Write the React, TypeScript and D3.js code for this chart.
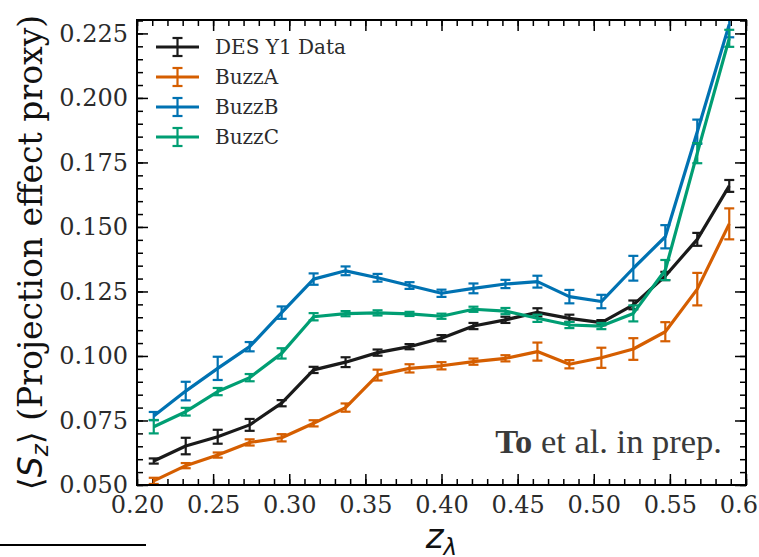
import React, { useEffect, useRef } from 'react';
import * as d3 from 'd3';

// redshift bins
const zLambda = [0.211, 0.232, 0.253, 0.274, 0.295, 0.316, 0.337, 0.358, 0.379, 0.400, 0.421, 0.442, 0.463, 0.484, 0.505, 0.526, 0.547, 0.568, 0.589];

const desY = [0.0593, 0.0651, 0.0687, 0.0733, 0.0817, 0.0946, 0.0976, 0.1013, 0.1036, 0.1069, 0.1116, 0.1140, 0.1169, 0.1146, 0.1129, 0.1198, 0.1310, 0.1452, 0.1659];
const desErr = [0.0010, 0.0032, 0.0027, 0.0023, 0.0012, 0.0012, 0.0019, 0.0012, 0.0010, 0.0012, 0.0012, 0.0012, 0.0016, 0.0014, 0.0010, 0.0017, 0.0016, 0.0025, 0.0023];

const buzzAY = [0.0516, 0.0575, 0.0616, 0.0665, 0.0683, 0.0739, 0.0800, 0.0926, 0.0952, 0.0962, 0.0978, 0.0991, 0.1017, 0.0968, 0.0993, 0.1027, 0.1094, 0.1259, 0.1512];
const buzzAErr = [0.0012, 0.0010, 0.0010, 0.0012, 0.0014, 0.0012, 0.0016, 0.0021, 0.0016, 0.0014, 0.0012, 0.0012, 0.0035, 0.0016, 0.0039, 0.0042, 0.0037, 0.0063, 0.0060];

const buzzBY = [0.0767, 0.0864, 0.0952, 0.1036, 0.1168, 0.1298, 0.1330, 0.1303, 0.1273, 0.1243, 0.1262, 0.1279, 0.1288, 0.1230, 0.1211, 0.1340, 0.1462, 0.1869, 0.2285];
const buzzBErr = [0.0016, 0.0036, 0.0045, 0.0018, 0.0024, 0.0022, 0.0017, 0.0015, 0.0013, 0.0014, 0.0019, 0.0016, 0.0023, 0.0026, 0.0026, 0.0048, 0.0045, 0.0047, 0.0050];

const buzzCY = [0.0726, 0.0784, 0.0862, 0.0916, 0.1010, 0.1152, 0.1164, 0.1167, 0.1163, 0.1154, 0.1181, 0.1174, 0.1146, 0.1120, 0.1116, 0.1165, 0.1333, 0.1786, 0.2231];
const buzzCErr = [0.0026, 0.0015, 0.0014, 0.0014, 0.0020, 0.0014, 0.0010, 0.0010, 0.0008, 0.0010, 0.0010, 0.0012, 0.0014, 0.0012, 0.0012, 0.0031, 0.0039, 0.0039, 0.0033];

const seriesNames = ['DES Y1 Data', 'BuzzA', 'BuzzB', 'BuzzC'];
const seriesColors = ['#1a1a1a', '#d55e00', '#0072b2', '#009e73'];

const xTicks = [0.20, 0.25, 0.30, 0.35, 0.40, 0.45, 0.50, 0.55, 0.60];
const yTicks = [0.050, 0.075, 0.100, 0.125, 0.150, 0.175, 0.200, 0.225];

const W = 759, H = 557;
const margin = { top: 20, right: 13, bottom: 72, left: 137 };

const App = () => {
    const ref = useRef(null);

    useEffect(() => {
        if (!ref.current) return;
        const svg = d3.select(ref.current);
        svg.selectAll('*').remove();

        const iw = W - margin.left - margin.right;
        const ih = H - margin.top - margin.bottom;

        const x = d3.scaleLinear().domain([0.2, 0.6]).range([0, iw]);
        const y = d3.scaleLinear().domain([0.05, 0.2302]).range([ih, 0]);

        const g = svg.append('g').attr('transform', `translate(${margin.left},${margin.top})`);

        svg.append('defs').append('clipPath').attr('id', 'plotclip')
            .append('rect').attr('width', iw).attr('height', ih);

        const minorX = d3.range(0.2, 0.6001, 0.01);
        const minorY = d3.range(0.05, 0.2301, 0.005);

        // ticks pointing inwards on every side
        const addAxis = (axis, transform, labels) => {
            const a = g.append('g').attr('transform', transform).call(axis);
            a.select('.domain').remove();
            a.selectAll('.tick line').attr('stroke', '#000').attr('stroke-width', 1.5);
            if (labels) {
                a.selectAll('text')
                    .attr('fill', '#2b2b2b')
                    .style('font-family', '"DejaVu Serif", serif')
                    .style('font-size', '24px');
            } else {
                a.selectAll('text').remove();
            }
        };

        addAxis(d3.axisBottom(x).tickValues(minorX).tickSize(-6).tickFormat(() => ''), `translate(0,${ih})`, false);
        addAxis(d3.axisTop(x).tickValues(minorX).tickSize(-6).tickFormat(() => ''), 'translate(0,0)', false);
        addAxis(d3.axisLeft(y).tickValues(minorY).tickSize(-6).tickFormat(() => ''), 'translate(0,0)', false);
        addAxis(d3.axisRight(y).tickValues(minorY).tickSize(-6).tickFormat(() => ''), `translate(${iw},0)`, false);

        addAxis(d3.axisBottom(x).tickValues(xTicks).tickSize(-11).tickPadding(11).tickFormat(d3.format('.2f')), `translate(0,${ih})`, true);
        addAxis(d3.axisTop(x).tickValues(xTicks).tickSize(-11).tickFormat(() => ''), 'translate(0,0)', false);
        addAxis(d3.axisLeft(y).tickValues(yTicks).tickSize(-11).tickPadding(9).tickFormat(d3.format('.3f')), 'translate(0,0)', true);
        addAxis(d3.axisRight(y).tickValues(yTicks).tickSize(-11).tickFormat(() => ''), `translate(${iw},0)`, false);

        const allY = [desY, buzzAY, buzzBY, buzzCY];
        const allErr = [desErr, buzzAErr, buzzBErr, buzzCErr];

        const plot = g.append('g').attr('clip-path', 'url(#plotclip)');
        const line = d3.line().x(d => x(d[0])).y(d => y(d[1]));
        const cap = 5;

        allY.forEach((ys, si) => {
            const pts = zLambda.map((z, i) => [z, ys[i], allErr[si][i]]);
            const color = seriesColors[si];
            const s = plot.append('g');
            s.append('path')
                .datum(pts)
                .attr('d', line)
                .attr('fill', 'none')
                .attr('stroke', color)
                .attr('stroke-width', 3.2)
                .attr('stroke-linejoin', 'round');
            const eb = s.selectAll('g.eb').data(pts).enter().append('g')
                .attr('stroke', color).attr('stroke-width', 2.2);
            eb.append('line')
                .attr('x1', d => x(d[0])).attr('x2', d => x(d[0]))
                .attr('y1', d => y(d[1] - d[2])).attr('y2', d => y(d[1] + d[2]));
            eb.append('line')
                .attr('x1', d => x(d[0]) - cap).attr('x2', d => x(d[0]) + cap)
                .attr('y1', d => y(d[1] - d[2])).attr('y2', d => y(d[1] - d[2]));
            eb.append('line')
                .attr('x1', d => x(d[0]) - cap).attr('x2', d => x(d[0]) + cap)
                .attr('y1', d => y(d[1] + d[2])).attr('y2', d => y(d[1] + d[2]));
        });

        // frame
        g.append('rect').attr('width', iw).attr('height', ih)
            .attr('fill', 'none').attr('stroke', '#000').attr('stroke-width', 2);

        // legend
        const leg = g.append('g').attr('transform', 'translate(19,27)');
        seriesNames.forEach((name, i) => {
            const row = leg.append('g').attr('transform', `translate(0,${i * 30})`);
            const c = seriesColors[i];
            row.append('line').attr('x1', 0).attr('x2', 43).attr('stroke', c).attr('stroke-width', 3);
            row.append('line').attr('x1', 21.5).attr('x2', 21.5).attr('y1', -9).attr('y2', 9).attr('stroke', c).attr('stroke-width', 2.2);
            row.append('line').attr('x1', 16.5).attr('x2', 26.5).attr('y1', -9).attr('y2', -9).attr('stroke', c).attr('stroke-width', 2.2);
            row.append('line').attr('x1', 16.5).attr('x2', 26.5).attr('y1', 9).attr('y2', 9).attr('stroke', c).attr('stroke-width', 2.2);
            row.append('text').attr('x', 59).attr('dy', '0.35em')
                .attr('fill', '#2b2b2b')
                .style('font-family', '"DejaVu Serif", serif')
                .style('font-size', '20px')
                .text(name);
        });

        // annotation
        const ann = g.append('text')
            .attr('x', iw - 24).attr('y', ih - 32)
            .attr('text-anchor', 'end')
            .attr('fill', '#3a3a3a')
            .style('font-family', '"Liberation Serif", serif')
            .style('font-size', '34.5px');
        ann.append('tspan').style('font-weight', 'bold').text('To');
        ann.append('tspan').text(' et al. in prep.');

        // axis labels
        const yl = svg.append('text')
            .attr('transform', `translate(42,${margin.top + ih / 2}) rotate(-90)`)
            .attr('text-anchor', 'middle')
            .attr('fill', '#111')
            .style('font-family', '"DejaVu Serif", serif')
            .style('font-size', '33px');
        yl.append('tspan').style('font-family', '"DejaVu Sans", sans-serif').text('\u27E8');
        yl.append('tspan').style('font-family', '"DejaVu Sans", sans-serif').style('font-style', 'italic').text('S');
        yl.append('tspan').style('font-family', '"DejaVu Sans", sans-serif').style('font-style', 'italic')
            .style('font-size', '23px').attr('dy', 6).text('z');
        yl.append('tspan').style('font-family', '"DejaVu Sans", sans-serif').attr('dy', -6).text('\u27E9');
        yl.append('tspan').text(' (Projection effect proxy)');

        const xl = svg.append('text')
            .attr('x', margin.left + iw / 2).attr('y', 548)
            .attr('text-anchor', 'middle')
            .attr('fill', '#111')
            .style('font-family', '"DejaVu Sans", sans-serif')
            .style('font-size', '34px');
        xl.append('tspan').style('font-style', 'italic').text('z');
        xl.append('tspan').style('font-style', 'italic').style('font-size', '23px').attr('dy', 7).text('\u03BB');

        // stray rule at bottom left of the figure
        svg.append('line').attr('x1', 0).attr('x2', 146).attr('y1', 545).attr('y2', 545)
            .attr('stroke', '#000').attr('stroke-width', 2);
    }, []);

    return (
        <div style={{ position: 'absolute', left: 0, top: 0, width: W, height: H, background: '#fff' }}>
            <svg ref={ref} width={W} height={H} style={{ display: 'block', overflow: 'hidden' }} />
        </div>
    );
};

export default App;
